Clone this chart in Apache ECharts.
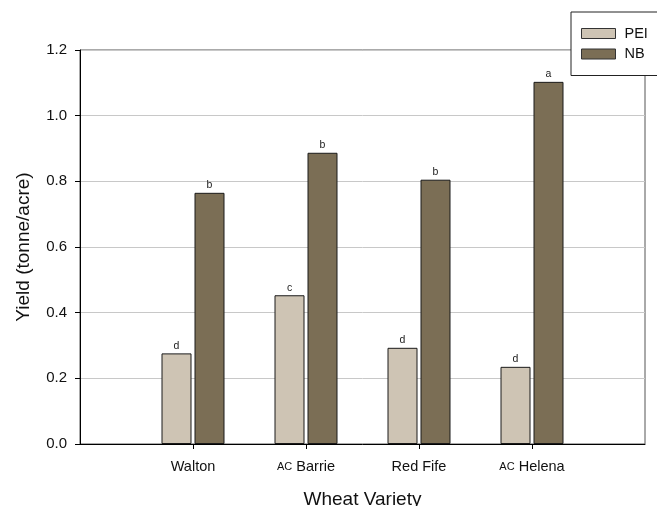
<!DOCTYPE html>
<html>
<head>
<meta charset="utf-8">
<script src="https://cdn.jsdelivr.net/npm/echarts@6/dist/echarts.min.js"></script>
<style>
  html, body { margin: 0; padding: 0; background: #fff; }
  #chart { width: 657px; height: 506px; }
</style>
</head>
<body>
<div id="chart"></div>
<script>
// Wheat yield by variety and province
const varieties = ['Walton', 'AC Barrie', 'Red Fife', 'AC Helena'];
const peiYield = [0.276, 0.453, 0.293, 0.235];
const nbYield = [0.765, 0.887, 0.805, 1.103];
const peiGroups = ['d', 'c', 'd', 'd'];
const nbGroups = ['b', 'b', 'b', 'a'];
const yTicks = [0.0, 0.2, 0.4, 0.6, 0.8, 1.0, 1.2];

// empty slots at both ends leave room on either side of the bar groups
const categories = [''].concat(varieties, ['']);
const pad = arr => [null].concat(arr, [null]);

const font = '"Liberation Sans", Arial, sans-serif';

function groupLabel(letters) {
  return {
    show: true,
    position: 'top',
    distance: 2,
    fontSize: 10.5,
    fontFamily: font,
    color: '#222',
    formatter: p => letters[p.dataIndex - 1] || ''
  };
}

const chart = echarts.init(document.getElementById('chart'));
chart.setOption({
  animation: false,
  backgroundColor: '#fff',
  grid: {
    left: 80, right: 12, top: 50, bottom: 62,
    containLabel: false,
    outerBoundsMode: 'none',
    show: true, borderColor: '#555', borderWidth: 1, backgroundColor: 'transparent'
  },
  legend: {
    orient: 'vertical',
    left: 571, top: 12,
    padding: [14, 20, 14, 10],
    icon: 'rect',
    itemWidth: 34, itemHeight: 10, itemGap: 5.5,
    backgroundColor: '#fff',
    borderColor: '#222', borderWidth: 1,
    textStyle: { fontFamily: font, fontSize: 14.5, color: '#111', padding: [0, 0, 0, 4] },
    itemStyle: { borderColor: '#333', borderWidth: 1 },
    data: ['PEI', 'NB']
  },
  xAxis: {
    type: 'category',
    data: categories,
    boundaryGap: false,
    name: 'Wheat Variety',
    nameLocation: 'middle',
    nameGap: 46,
    nameTextStyle: { fontFamily: font, fontSize: 19, color: '#111' },
    axisLine: { lineStyle: { color: '#000', width: 1 } },
    axisTick: {
      length: 5,
      interval: (i) => i > 0 && i < categories.length - 1,
      lineStyle: { color: '#000' }
    },
    axisLabel: {
      margin: 15,
      interval: 0,
      fontFamily: font, fontSize: 14.5, color: '#111',
      formatter: v => v.startsWith('AC ') ? '{s|AC} ' + v.slice(3) : v,
      rich: { s: { fontFamily: font, fontSize: 11, color: '#111' } }
    },
    splitLine: { show: false }
  },
  yAxis: {
    type: 'value',
    min: yTicks[0],
    max: yTicks[yTicks.length - 1],
    interval: 0.2,
    name: 'Yield (tonne/acre)',
    nameLocation: 'middle',
    nameGap: 47,
    nameTextStyle: { fontFamily: font, fontSize: 19, color: '#111' },
    axisLine: { show: true, lineStyle: { color: '#000', width: 1 } },
    axisTick: { show: true, length: 5, lineStyle: { color: '#000' } },
    axisLabel: {
      margin: 13,
      fontFamily: font, fontSize: 15, color: '#111',
      formatter: v => v.toFixed(1)
    },
    splitLine: { show: true, lineStyle: { color: '#c8c8c8', width: 1 } }
  },
  series: [
    {
      name: 'PEI',
      type: 'bar',
      data: pad(peiYield),
      barWidth: 30,
      barGap: '10%',
      itemStyle: { color: '#cec4b4', borderColor: '#1a1a1a', borderWidth: 1 },
      label: groupLabel(peiGroups)
    },
    {
      name: 'NB',
      type: 'bar',
      data: pad(nbYield),
      barWidth: 30,
      barGap: '10%',
      itemStyle: { color: '#7b6e55', borderColor: '#1a1a1a', borderWidth: 1 },
      label: groupLabel(nbGroups)
    }
  ]
});
</script>
</body>
</html>
